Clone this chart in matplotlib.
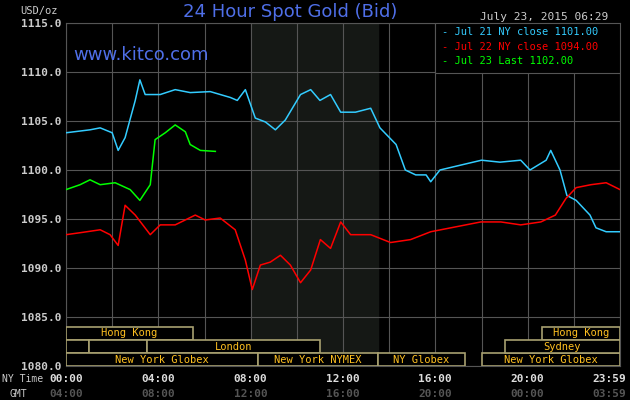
import matplotlib
matplotlib.use("Agg")
import matplotlib.pyplot as plt
from matplotlib.patches import Rectangle

blue_h = [0,1.04,1.48,2.0,2.26,2.56,3.0,3.2,3.43,4.08,4.73,5.38,6.25,7.12,7.42,7.77,8.2,8.64,9.07,9.5,10.16,10.6,11.0,11.46,11.9,12.54,13.2,13.6,14.3,14.7,15.15,15.6,15.8,16.2,17.1,18.0,18.8,19.7,20.1,20.8,21.0,21.4,21.7,22.1,22.7,22.96,23.4,24]
blue_p = [1103.8,1104.1,1104.3,1103.8,1102.0,1103.3,1107.1,1109.2,1107.7,1107.7,1108.2,1107.9,1108.0,1107.4,1107.1,1108.2,1105.3,1104.9,1104.1,1105.1,1107.7,1108.2,1107.1,1107.7,1105.9,1105.9,1106.3,1104.3,1102.6,1100.0,1099.5,1099.5,1098.8,1100.0,1100.5,1101.0,1100.8,1101.0,1100.0,1101.0,1102.0,1100.0,1097.4,1096.9,1095.4,1094.1,1093.7,1093.7]
red_h = [0,0.61,1.48,1.91,2.26,2.56,3.0,3.65,4.08,4.73,5.6,6.03,6.68,7.33,7.77,8.07,8.42,8.85,9.29,9.72,10.16,10.6,11.02,11.46,11.9,12.33,13.2,14.06,14.93,15.8,16.67,17.97,18.84,19.7,20.57,21.2,21.66,22.1,22.74,23.4,24]
red_p = [1093.4,1093.6,1093.9,1093.4,1092.3,1096.4,1095.4,1093.4,1094.4,1094.4,1095.4,1094.9,1095.1,1093.9,1090.8,1087.8,1090.3,1090.6,1091.3,1090.3,1088.5,1089.8,1092.9,1092.0,1094.7,1093.4,1093.4,1092.6,1092.9,1093.7,1094.1,1094.7,1094.7,1094.4,1094.7,1095.4,1097.1,1098.2,1098.5,1098.7,1098.0]
green_h = [0,0.61,1.04,1.48,2.13,2.78,3.2,3.65,3.86,4.3,4.73,5.17,5.38,5.82,6.47]
green_p = [1098.0,1098.5,1099.0,1098.5,1098.7,1098.0,1096.9,1098.5,1103.1,1103.8,1104.6,1103.9,1102.6,1102.0,1101.9]

y_ticks = [1080,1085,1090,1095,1100,1105,1110,1115]
x_ticks = [0,4,8,12,16,20,24]
ny_labels = ["00:00","04:00","08:00","12:00","16:00","20:00","23:59"]
gmt_labels = ["04:00","08:00","12:00","16:00","20:00","00:00","03:59"]
legend_text = ["Jul 21 NY close 1101.00","Jul 22 NY close 1094.00","Jul 23 Last 1102.00"]
colors = ["#33ccff","#ff0000","#00ff00"]
markets = [("Hong Kong",0,5.5,0),("",0,1.0,1),("",1.0,3.5,1),("London",3.5,11.0,1),
           ("New York Globex",0,8.3,2),("New York NYMEX",8.3,13.5,2),("NY Globex",13.5,17.3,2),
           ("New York Globex",18.0,24,2),("Hong Kong",20.6,24,0),("Sydney",19.0,24,1)]
rows = [(1082.65,1084.0),(1081.3,1082.65),(1080.0,1081.3)]

mono = "DejaVu Sans Mono"
fig = plt.figure(figsize=(6.3,4), dpi=100, facecolor="black")
ax = fig.add_axes([66/630, 34/400, 554/630, 343/400], facecolor="black")
ax.set_xlim(0,24); ax.set_ylim(1080,1115)
ax.axvspan(8,13.5,color="#151815",zorder=0)
for h in range(0,25,2):
    ax.axvline(h,color="#555555",lw=0.8,zorder=1)
for p in y_ticks:
    ax.axhline(p,color="#555555",lw=0.8,zorder=1)
for s in ax.spines.values(): s.set_color("#555555")
ax.set_xticks([]); ax.set_yticks(y_ticks)
ax.set_yticklabels([f"{v:.1f}" for v in y_ticks], color="#cccccc", fontsize=8, family=mono, fontweight="bold")
ax.tick_params(axis="y", length=0, pad=3)

ax.plot(blue_h, blue_p, color=colors[0], lw=1.1, zorder=3)
ax.plot(red_h, red_p, color=colors[1], lw=1.1, zorder=3)
ax.plot(green_h, green_p, color=colors[2], lw=1.1, zorder=3)

for name,a,b,r in markets:
    y0,y1 = rows[r]
    ax.add_patch(Rectangle((a,y0),b-a,y1-y0,fill=True,facecolor="black",edgecolor="#a8a070",lw=1.2,zorder=4))
    if name:
        ax.text((a+b)/2,(y0+y1)/2,name,color="#ffc020",fontsize=7.5,family=mono,ha="center",va="center",zorder=5)

ax.add_patch(Rectangle((16.0,1109.9),8.0,5.1,facecolor="black",edgecolor="#555555",lw=0.8,zorder=4))
for i,(t,c) in enumerate(zip(legend_text,colors)):
    ax.text(16.3,1114.1-i*1.5,"- "+t,color=c,fontsize=7.5,family=mono,va="center",zorder=5)

for h,l1,l2 in zip(x_ticks,ny_labels,gmt_labels):
    x = 66/630 + h/24*554/630
    ha = "center"
    if h == 24:
        x = 626/630; ha = "right"
    fig.text(x,21/400,l1,color="#dddddd",fontsize=8,family=mono,fontweight="bold",ha=ha,va="center")
    fig.text(x,6/400,l2,color="#555555",fontsize=8,family=mono,fontweight="bold",ha=ha,va="center")
fig.text(2/630,21/400,"NY Time",color="#cccccc",fontsize=7,family=mono,va="center")
fig.text(10/630,6/400,"GMT",color="#cccccc",fontsize=7,family=mono,va="center")
fig.text(20/630,389/400,"USD/oz",color="#cccccc",fontsize=7.5,family=mono,va="center")
fig.text(290/630,388/400,"24 Hour Spot Gold (Bid)",color="#4f6fe8",fontsize=13,ha="center",va="center")
fig.text(608/630,383/400,"July 23, 2015 06:29",color="#cccccc",fontsize=8,family=mono,ha="right",va="center")
ax.text(0.3,1111.7,"www.kitco.com",color="#4f6fe8",fontsize=13,va="center",zorder=5)

fig.savefig("out.png", dpi=100, facecolor="black")
